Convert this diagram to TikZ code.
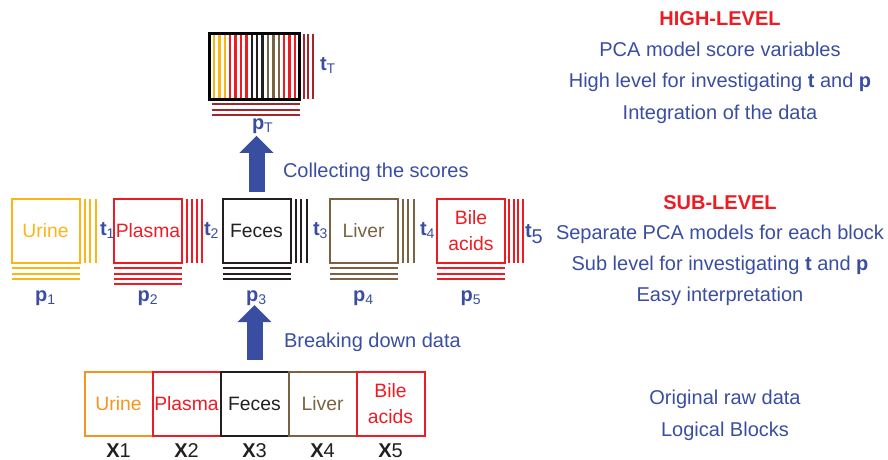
\documentclass[tikz,border=0pt]{standalone}
\usepackage{fontspec}
\setmainfont{Liberation Sans}
\usetikzlibrary{arrows.meta}

\definecolor{urineOr}{HTML}{F7941D}
\definecolor{urineYl}{HTML}{FBB517}
\definecolor{plasmaRd}{HTML}{ED1C24}
\definecolor{fecesBk}{HTML}{231F20}
\definecolor{liverBr}{HTML}{7A6243}
\definecolor{scoreRd}{HTML}{A3262A}
\definecolor{txtBlue}{HTML}{3A4EA1}

\begin{document}
\begin{tikzpicture}[x=0.75pt, y=-0.75pt,
  every node/.style={inner sep=0pt, outer sep=0pt},
  blk/.style={draw, line width=1.5pt, minimum width=51pt, minimum height=48pt,
    align=center, font=\fontsize{14.5}{19.5}\selectfont},
  tl/.style={line width=1.5pt},
  lbl/.style={text=txtBlue, font=\fontsize{15}{18}\selectfont},
  head/.style={text=plasmaRd, font=\fontsize{15}{18}\selectfont\bfseries},
  xlbl/.style={text=fecesBk, font=\fontsize{15}{18}\selectfont},
  bigarrow/.style={txtBlue, line width=12pt, -{Triangle[width=24.75pt, length=12.75pt]}}]

\useasboundingbox (0,0) rectangle (888,460);

% raw data blocks
\node[blk, draw=urineOr,  text=urineOr]  (xUr) at (118.5,404) {Urine};
\node[blk, draw=plasmaRd, text=plasmaRd] (xPl) at (186.5,404) {Plasma};
\node[blk, draw=fecesBk,  text=fecesBk]  (xFe) at (254.5,404) {Feces};
\node[blk, draw=liverBr,  text=liverBr]  (xLi) at (322.5,404) {Liver};
\node[blk, draw=plasmaRd, text=plasmaRd] (xBa) at (390.5,404) {Bile\\acids};

\node[xlbl, anchor=base] (lUr) at (118.5,457) {\textbf{X}1};
\node[xlbl, anchor=base] (lPl) at (186.5,457) {\textbf{X}2};
\node[xlbl, anchor=base] (lFe) at (254.5,457) {\textbf{X}3};
\node[xlbl, anchor=base] (lLi) at (322.5,457) {\textbf{X}4};
\node[xlbl, anchor=base] (lBa) at (390.5,457) {\textbf{X}5};

% sub-level blocks
\node[blk, draw=urineYl,  text=urineYl]  (sUr) at (45.5,231)  {Urine};
\node[blk, draw=plasmaRd, text=plasmaRd] (sPl) at (148,231)   {Plasma};
\node[blk, draw=fecesBk,  text=fecesBk]  (sFe) at (256.5,231) {Feces};
\node[blk, draw=liverBr,  text=liverBr]  (sLi) at (363.5,231) {Liver};
\node[blk, draw=plasmaRd, text=plasmaRd] (sBa) at (471,231)   {Bile\\acids};

\foreach \blk/\cs/\nt/\np/\gap in {sUr/urineYl/3/3/4.1, sPl/plasmaRd/4/4/3.8,
    sFe/fecesBk/3/3/4.1, sLi/liverBr/3/3/4.1, sBa/plasmaRd/4/3/3.3} {
  \foreach \i in {1,...,\nt}
    \draw[tl, \cs] ([xshift=\i*\gap pt]\blk.north east) -- ([xshift=\i*\gap pt]\blk.south east);
  \foreach \i in {1,...,\np}
    \draw[tl, \cs] ([yshift=-\i*4pt]\blk.south west) -- ([yshift=-\i*4pt]\blk.south east);
}

\node[lbl, anchor=base west] (tUr) at (100,235) {\textbf{t}\textsubscript{1}};
\node[lbl, anchor=base west] (tPl) at (204,235) {\textbf{t}\textsubscript{2}};
\node[lbl, anchor=base west] (tFe) at (313,235) {\textbf{t}\textsubscript{3}};
\node[lbl, anchor=base west] (tLi) at (420,235) {\textbf{t}\textsubscript{4}};
\node[lbl, anchor=base west] (tBa) at (525,237) {\textbf{t}\raisebox{-4.5pt}{5}};

\node[lbl, anchor=base] (pUr) at (45.5,301)  {\textbf{p}\textsubscript{1}};
\node[lbl, anchor=base] (pPl) at (148,301)   {\textbf{p}\textsubscript{2}};
\node[lbl, anchor=base] (pFe) at (256.5,301) {\textbf{p}\textsubscript{3}};
\node[lbl, anchor=base] (pLi) at (363.5,301) {\textbf{p}\textsubscript{4}};
\node[lbl, anchor=base] (pBa) at (471,301)   {\textbf{p}\textsubscript{5}};

% high-level super block
\foreach \k/\cs in {0/urineYl, 1/urineYl, 2/urineYl, 3/plasmaRd, 4/plasmaRd,
    5/plasmaRd, 6/plasmaRd, 7/fecesBk, 8/fecesBk, 9/fecesBk, 10/liverBr,
    11/liverBr, 12/liverBr, 13/plasmaRd, 14/plasmaRd, 15/plasmaRd}
  \draw[line width=1.8pt, \cs] (214+5.4*\k,35) -- (214+5.4*\k,98);
\node[draw=black, line width=2.25pt, minimum width=67.5pt, minimum height=48.75pt] (sT) at (254,66.5) {};

\foreach \i in {1,2,3}
  \draw[tl, scoreRd] ([xshift=\i*3.4pt]sT.north east) -- ([xshift=\i*3.4pt]sT.south east);
\foreach \i in {1,2,3}
  \draw[tl, scoreRd] ([xshift=2pt, yshift=-\i*4pt]sT.south west) -- ([xshift=1pt, yshift=-\i*4pt]sT.south east);

\node[lbl, anchor=base west] (tT) at (320,70)  {\textbf{t}\textsubscript{T}};
\node[lbl, anchor=base west] (pT) at (252,129) {\textbf{p}\textsubscript{T}};

% arrows
\draw[bigarrow, shorten <=9pt] (xFe.north) -- (xFe.north |- pFe.south);
\draw[bigarrow, shorten <=5pt, shorten >=2pt] (sFe.north) -- (sFe.north |- pT.south);

\node[lbl, anchor=base west] (breakdown) at (284,347) {Breaking down data};
\node[lbl, anchor=base west] (collect)   at (283,177) {Collecting the scores};

% right-hand notes
\node[head, anchor=base] (hlHead) at (720,26)  {HIGH-LEVEL};
\node[lbl,  anchor=base] (hlA)    at (720,57)  {PCA model score variables};
\node[lbl,  anchor=base] (hlB)    at (720,88)  {High level for investigating \textbf{t} and \textbf{p}};
\node[lbl,  anchor=base] (hlC)    at (720,119) {Integration of the data};

\node[head, anchor=base] (slHead) at (720,209) {SUB-LEVEL};
\node[lbl,  anchor=base] (slA)    at (720,239) {Separate PCA models for each block};
\node[lbl,  anchor=base] (slB)    at (720,270) {Sub level for investigating \textbf{t} and \textbf{p}};
\node[lbl,  anchor=base] (slC)    at (720,301) {Easy interpretation};

\node[lbl,  anchor=base] (rawA)   at (725,404) {Original raw data};
\node[lbl,  anchor=base] (rawB)   at (725,436) {Logical Blocks};

\end{tikzpicture}
\end{document}
